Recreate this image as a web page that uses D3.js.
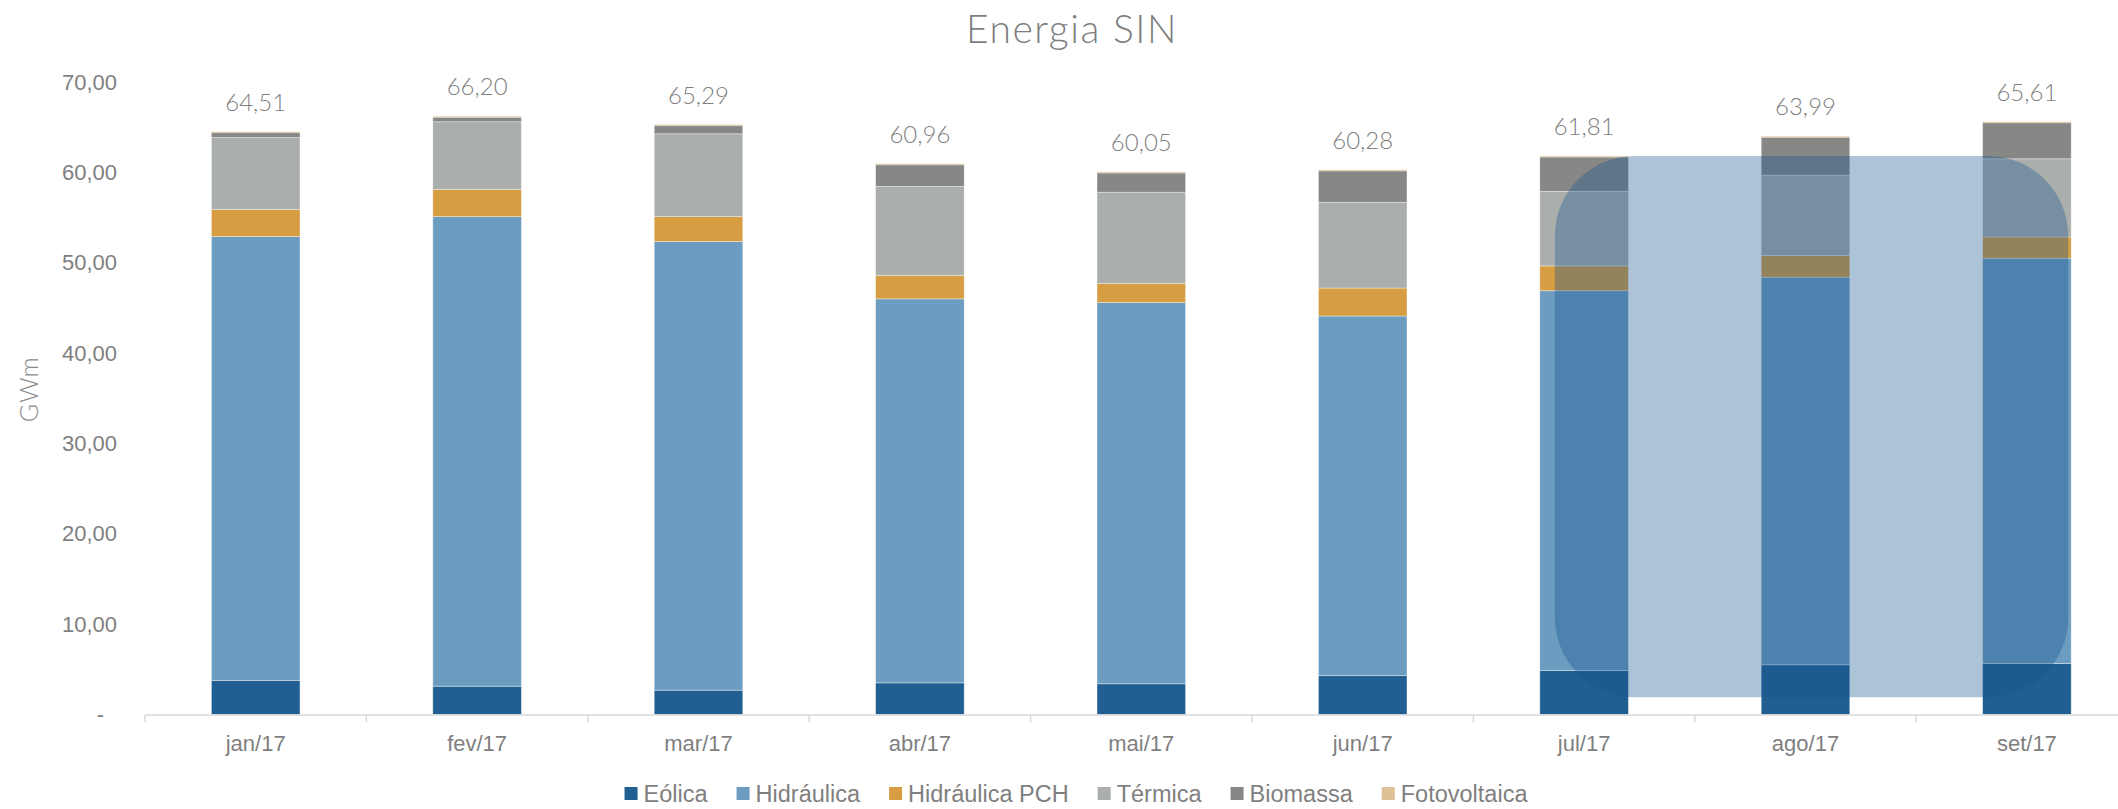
<!DOCTYPE html>
<html>
<head>
<meta charset="utf-8">
<script src="https://cdn.jsdelivr.net/npm/d3@7"></script>
<style>
  body { margin: 0; background: #fff; }
  svg { display: block; }
</style>
</head>
<body>
<div id="chart"></div>
<script>
// months on the x axis
const months = ['jan/17', 'fev/17', 'mar/17', 'abr/17', 'mai/17', 'jun/17', 'jul/17', 'ago/17', 'set/17'];

// GWm per source
const eolica       = [3.76, 3.13, 2.69, 3.50, 3.40, 4.30, 4.86, 5.50, 5.64];
const hidraulica   = [49.14, 51.97, 49.65, 42.50, 42.20, 39.80, 42.04, 42.90, 44.86];
const hidraulicaPch = [3.00, 3.00, 2.76, 2.60, 2.10, 3.10, 2.75, 2.40, 2.35];
const termica      = [7.96, 7.50, 9.17, 9.85, 10.10, 9.50, 8.25, 8.90, 8.65];
const biomassa     = [0.60, 0.55, 0.97, 2.46, 2.20, 3.53, 3.86, 4.24, 4.06];
const fotovoltaica = [0.05, 0.05, 0.05, 0.05, 0.05, 0.05, 0.05, 0.05, 0.05];

// totals printed above the bars
const totals = [64.51, 66.20, 65.29, 60.96, 60.05, 60.28, 61.81, 63.99, 65.61];

const seriesNames = ['Eólica', 'Hidráulica', 'Hidráulica PCH', 'Térmica', 'Biomassa', 'Fotovoltaica'];
const seriesColors = ['#215e91', '#6c9cbf', '#d69d42', '#abafab', '#878885', '#dfc197'];
const yTicks = [0, 10, 20, 30, 40, 50, 60, 70];

// highlighted block drawn over the last three months
const highlightFrom = 'jul/17';
const highlightTo = 'set/17';
const highlightTop = 61.81;
const highlightBottom = 1.9;

const width = 2118, height = 809;
const margin = { top: 82, left: 145, bottom: 94 };
const step = 221.4;

const svg = d3.select('#chart').append('svg')
  .attr('width', width)
  .attr('height', height)
  .attr('viewBox', `0 0 ${width} ${height}`);

const table = months.map((m, i) => ({
  month: m,
  'Eólica': eolica[i],
  'Hidráulica': hidraulica[i],
  'Hidráulica PCH': hidraulicaPch[i],
  'Térmica': termica[i],
  'Biomassa': biomassa[i],
  'Fotovoltaica': fotovoltaica[i],
  total: totals[i]
}));

const x = d3.scaleBand()
  .domain(months)
  .range([margin.left, margin.left + step * months.length])
  .paddingInner(0.6)
  .paddingOuter(0.3);

const y = d3.scaleLinear()
  .domain([0, 70])
  .range([height - margin.bottom - 0.5, margin.top]);

const color = d3.scaleOrdinal().domain(seriesNames).range(seriesColors);

const stacked = d3.stack().keys(seriesNames)(table);

// title
svg.append('text')
  .attr('x', 1072)
  .attr('y', 43)
  .attr('text-anchor', 'middle')
  .attr('font-family', 'Lato, "Open Sans", sans-serif')
  .attr('font-weight', 300)
  .attr('font-size', 39)
  .attr('letter-spacing', 1.5)
  .attr('fill', '#7f7f7f')
  .text('Energia SIN');

// y axis title
svg.append('text')
  .attr('transform', `translate(38, ${y(36)}) rotate(-90)`)
  .attr('text-anchor', 'middle')
  .attr('font-family', 'Lato, "Open Sans", sans-serif')
  .attr('font-weight', 300)
  .attr('font-size', 25)
  .attr('letter-spacing', 1)
  .attr('fill', '#8c8c8c')
  .text('GWm');

// y axis labels
const fmt = d => d === 0 ? '-' : d3.format('.2f')(d).replace('.', ',');
const yAxis = svg.append('g')
  .attr('transform', `translate(${margin.left},0)`)
  .call(d3.axisLeft(y).tickValues(yTicks).tickSize(0).tickPadding(28).tickFormat(fmt));
yAxis.select('.domain').remove();
yAxis.selectAll('text')
  .attr('font-family', '"Liberation Sans", Arial, sans-serif')
  .attr('font-size', 22)
  .attr('fill', '#7f7f7f');
yAxis.selectAll('.tick').filter(d => d === 0).select('text')
  .attr('x', -41);

// bars
svg.append('g')
  .selectAll('g')
  .data(stacked)
  .join('g')
  .attr('fill', d => color(d.key))
  .selectAll('rect')
  .data(d => d)
  .join('rect')
  .attr('x', d => x(d.data.month))
  .attr('width', x.bandwidth())
  .attr('y', d => y(d[1]))
  .attr('height', d => Math.max(1.2, y(d[0]) - y(d[1])))
  .attr('stroke', 'rgba(255,255,255,0.45)')
  .attr('stroke-width', 0.8);

// x axis line and boundary ticks
const axisY = y(0) + 0.5;
svg.append('line')
  .attr('x1', margin.left)
  .attr('x2', width)
  .attr('y1', axisY)
  .attr('y2', axisY)
  .attr('stroke', '#d9d9d9')
  .attr('stroke-width', 1.5);

svg.append('g')
  .selectAll('line')
  .data(d3.range(months.length + 1))
  .join('line')
  .attr('x1', i => margin.left + i * x.step())
  .attr('x2', i => margin.left + i * x.step())
  .attr('y1', axisY)
  .attr('y2', axisY + 7)
  .attr('stroke', '#d9d9d9')
  .attr('stroke-width', 1.5);

svg.append('g')
  .selectAll('text')
  .data(months)
  .join('text')
  .attr('x', d => x(d) + x.bandwidth() / 2)
  .attr('y', axisY + 36)
  .attr('text-anchor', 'middle')
  .attr('font-family', '"Liberation Sans", Arial, sans-serif')
  .attr('font-size', 22)
  .attr('fill', '#7f7f7f')
  .text(d => d);

// total labels
svg.append('g')
  .selectAll('text')
  .data(table)
  .join('text')
  .attr('x', d => x(d.month) + x.bandwidth() / 2)
  .attr('y', d => y(d.total) - 21)
  .attr('text-anchor', 'middle')
  .attr('font-family', 'Lato, "Open Sans", sans-serif')
  .attr('font-weight', 300)
  .attr('font-size', 24)
  .attr('fill', '#7f7f7f')
  .text(d => d3.format('.2f')(d.total).replace('.', ','));

// highlight overlay
const hx0 = x(highlightFrom) + 15;
const hx1 = x(highlightTo) + x.bandwidth() - 3;
svg.append('rect')
  .attr('x', hx0)
  .attr('y', y(highlightTop))
  .attr('width', hx1 - hx0)
  .attr('height', y(highlightBottom) - y(highlightTop))
  .attr('rx', 80)
  .attr('ry', 80)
  .attr('fill', 'rgb(21,84,144)')
  .attr('fill-opacity', 0.35);

// legend
const legend = svg.append('g').attr('transform', 'translate(0, 794)');
const items = legend.selectAll('g')
  .data(seriesNames)
  .join('g');
items.append('rect')
  .attr('width', 13)
  .attr('height', 13)
  .attr('y', -7)
  .attr('fill', d => color(d));
items.append('text')
  .attr('x', 19)
  .attr('dy', '0.36em')
  .attr('font-family', '"Liberation Sans", Arial, sans-serif')
  .attr('font-size', 23.5)
  .attr('fill', '#7f7f7f')
  .text(d => d);

let offset = 0;
const positions = [];
items.each(function () {
  const w = 19 + this.querySelector('text').getComputedTextLength();
  positions.push(offset);
  offset += w + 29;
});
const legendWidth = offset - 29;
const legendStart = 1076 - legendWidth / 2;
items.attr('transform', (d, i) => `translate(${legendStart + positions[i]},0)`);
</script>
</body>
</html>
